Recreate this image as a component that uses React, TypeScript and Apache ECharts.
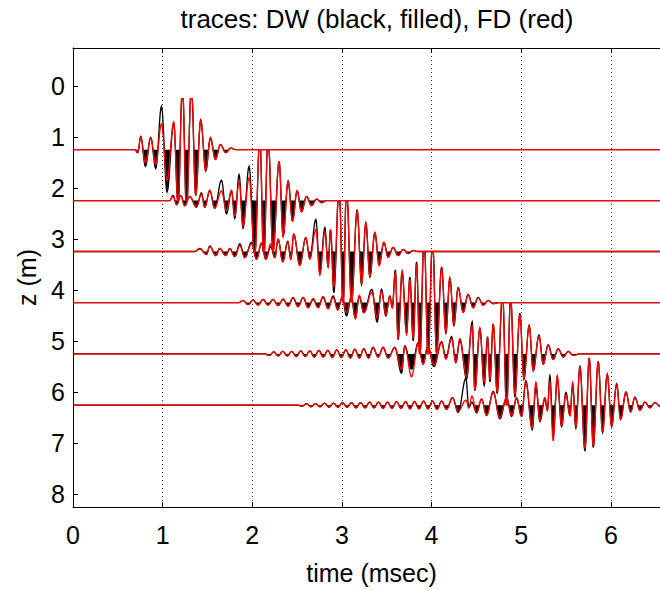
import React, { useEffect, useRef } from "react";
import * as echarts from "echarts";

const TITLE = "traces: DW (black, filled), FD (red)";
const X_NAME = "time (msec)";
const Y_NAME = "z (m)";
const X_MIN = 0;
const X_MAX = 6.66;
const Y_MIN = -0.75;
const Y_MAX = 8.26;
const CLIP = 1;

// receiver depths (trace baselines, m)
const BASELINES = [1.245, 2.245, 3.245, 4.247, 5.255, 6.262];

// trace 1: extrema times (msec), DW (black) and FD (red) amplitudes (trace spacing units, + = up)
const T1 = [0.689, 0.722, 0.756, 0.808, 0.867, 0.923, 0.987, 1.049, 1.124, 1.172, 1.221, 1.266, 1.321, 1.369, 1.425, 1.481, 1.533, 1.589, 1.645, 1.704, 1.76, 1.816];
const B1 = [0, -0.06, 0.26, -0.33, 0.24, -0.37, 0.85, -0.83, 0.52, -1.1, 1.3, -1.2, 1.3, -0.9, 0.58, -0.42, 0.22, -0.19, 0.1, -0.06, 0.03, 0];
const R1 = [0, -0.05, 0.24, -0.26, 0.23, -0.29, 0.51, -0.61, 0.54, -1.1, 1.3, -1.2, 1.3, -0.9, 0.58, -0.4, 0.24, -0.19, 0.1, -0.06, 0.03, 0];

const T2 = [1.079, 1.116, 1.157, 1.202, 1.247, 1.302, 1.377, 1.433, 1.47, 1.526, 1.581, 1.656, 1.712, 1.768, 1.805, 1.853, 1.897, 1.964, 2.028, 2.084, 2.128, 2.176, 2.232, 2.299, 2.344, 2.4, 2.449, 2.5, 2.549, 2.605, 2.661, 2.717, 2.772, 2.831];
const B2 = [0, 0.1, -0.08, 0.1, -0.1, 0.08, -0.13, 0.15, -0.13, 0.2, -0.15, 0.4, -0.26, 0.19, -0.35, 0.51, -0.54, 0.67, -1.1, 1.3, -1.2, 1.3, -1.0, 0.77, -0.7, 0.38, -0.4, 0.19, -0.22, 0.08, -0.1, 0.03, -0.04, 0];
const R2 = [0, 0.08, -0.08, 0.1, -0.1, 0.08, -0.12, 0.12, -0.13, 0.2, -0.15, 0.19, -0.2, 0.2, -0.3, 0.38, -0.5, 0.45, -1.1, 1.3, -1.2, 1.3, -1.0, 0.77, -0.7, 0.38, -0.4, 0.19, -0.22, 0.08, -0.1, 0.03, -0.04, 0];

const T3 = [1.358, 1.414, 1.489, 1.526, 1.593, 1.637, 1.704, 1.749, 1.805, 1.861, 1.917, 1.991, 2.047, 2.103, 2.151, 2.206, 2.251, 2.288, 2.34, 2.396, 2.43, 2.463, 2.53, 2.597, 2.642, 2.709, 2.754, 2.81, 2.846, 2.873, 2.91, 2.969, 3.013, 3.051, 3.107, 3.17, 3.219, 3.267, 3.312, 3.368, 3.415, 3.468, 3.516, 3.571, 3.627, 3.683, 3.739, 3.795, 3.847];
const B3 = [0, 0.06, -0.06, 0.11, -0.08, 0.06, -0.08, 0.05, -0.1, 0.15, -0.12, 0.18, -0.15, 0.15, -0.15, 0.1, -0.12, 0.24, -0.2, 0.2, -0.15, 0.34, -0.27, 0.27, -0.12, 0.63, -0.4, 0.47, -0.3, 0.43, -0.81, 1.3, -1.1, 1.3, -1.0, 0.82, -0.65, 0.56, -0.5, 0.37, -0.27, 0.18, -0.11, 0.08, -0.08, 0.04, -0.04, 0.02, 0];
const R3 = [0, 0.05, -0.05, 0.1, -0.08, 0.06, -0.08, 0.06, -0.1, 0.12, -0.12, 0.15, -0.15, 0.17, -0.15, 0.15, -0.12, 0.24, -0.2, 0.18, -0.15, 0.34, -0.27, 0.27, -0.15, 0.43, -0.46, 0.38, -0.3, 0.43, -0.7, 1.3, -1.1, 1.3, -1.0, 0.8, -0.62, 0.56, -0.48, 0.37, -0.27, 0.18, -0.11, 0.08, -0.08, 0.04, -0.04, 0.02, 0];

const T4 = [1.849, 1.897, 1.953, 2.009, 2.065, 2.121, 2.176, 2.232, 2.288, 2.344, 2.4, 2.455, 2.511, 2.567, 2.623, 2.679, 2.734, 2.79, 2.846, 2.902, 2.954, 3.004, 3.051, 3.105, 3.15, 3.194, 3.244, 3.334, 3.393, 3.442, 3.49, 3.535, 3.562, 3.596, 3.627, 3.672, 3.721, 3.758, 3.795, 3.833, 3.869, 3.917, 3.962, 4.011, 4.056, 4.112, 4.16, 4.204, 4.249, 4.297, 4.353, 4.408, 4.464, 4.52, 4.576, 4.632, 4.688, 4.762];
const B4 = [0, 0.04, -0.04, 0.05, -0.05, 0.06, -0.05, 0.06, -0.06, 0.06, -0.07, 0.1, -0.08, 0.1, -0.1, 0.06, -0.1, 0.1, -0.12, 0.13, -0.12, 0.1, -0.26, 0.1, -0.3, 0.12, -0.2, 0.26, -0.38, 0.26, -0.26, 0.13, -0.1, 0.64, -0.73, 0.6, -0.6, 0.5, -0.75, 0.8, -1.1, 1.3, -1.1, 1.3, -1.0, 0.7, -0.6, 0.48, -0.45, 0.29, -0.19, 0.16, -0.1, 0.1, -0.05, 0.04, -0.02, 0];
const R4 = [0, 0.04, -0.04, 0.05, -0.05, 0.06, -0.05, 0.06, -0.06, 0.07, -0.07, 0.09, -0.08, 0.1, -0.1, 0.08, -0.1, 0.12, -0.12, 0.1, -0.15, 0.12, -0.2, 0.12, -0.32, 0.14, -0.2, 0.2, -0.3, 0.22, -0.24, 0.12, -0.1, 0.58, -0.7, 0.62, -0.62, 0.45, -0.7, 0.75, -1.1, 1.3, -1.1, 1.3, -1.0, 0.68, -0.58, 0.48, -0.42, 0.29, -0.19, 0.15, -0.1, 0.09, -0.05, 0.04, -0.02, 0];

const T5 = [2.14, 2.19, 2.24, 2.29, 2.34, 2.391, 2.441, 2.491, 2.541, 2.592, 2.642, 2.692, 2.742, 2.792, 2.843, 2.893, 2.943, 2.993, 3.044, 3.094, 3.144, 3.194, 3.244, 3.297, 3.348, 3.404, 3.46, 3.516, 3.59, 3.665, 3.702, 3.777, 3.85, 3.906, 3.959, 4.026, 4.112, 4.16, 4.223, 4.271, 4.316, 4.391, 4.453, 4.483, 4.539, 4.587, 4.625, 4.651, 4.688, 4.732, 4.792, 4.837, 4.882, 4.93, 4.985, 5.03, 5.089, 5.134, 5.198, 5.246, 5.301, 5.357, 5.413, 5.469, 5.525, 5.58, 5.655];
const B5 = [0, -0.03, 0.04, -0.04, 0.05, -0.04, 0.05, -0.05, 0.06, -0.05, 0.06, -0.06, 0.07, -0.06, 0.07, -0.07, 0.08, -0.07, 0.08, -0.08, 0.09, -0.08, 0.1, -0.08, 0.13, -0.06, 0.13, -0.08, 0.13, -0.38, 0.16, -0.3, 0.22, -0.2, 0.15, -0.25, 0.24, -0.08, 0.34, -0.17, 0.27, -0.49, 0.63, -0.72, 0.5, -0.62, 0.34, -0.55, 0.59, -0.78, 1.2, -1.1, 1.15, -0.85, 0.8, -0.5, 0.56, -0.33, 0.37, -0.2, 0.18, -0.11, 0.1, -0.06, 0.05, -0.03, 0];
const R5 = [0, -0.03, 0.04, -0.04, 0.05, -0.04, 0.05, -0.05, 0.06, -0.05, 0.06, -0.06, 0.07, -0.06, 0.07, -0.07, 0.08, -0.07, 0.08, -0.08, 0.09, -0.08, 0.1, -0.08, 0.12, -0.06, 0.12, -0.08, 0.12, -0.3, 0.15, -0.45, 0.2, -0.2, 0.16, -0.22, 0.22, -0.1, 0.3, -0.15, 0.3, -0.45, 0.55, -0.72, 0.5, -0.55, 0.3, -0.5, 0.59, -0.75, 1.2, -1.05, 1.1, -0.8, 0.78, -0.48, 0.55, -0.33, 0.35, -0.2, 0.17, -0.11, 0.1, -0.06, 0.05, -0.03, 0];

const T6 = [2.508, 2.555, 2.605, 2.655, 2.705, 2.756, 2.806, 2.856, 2.906, 2.956, 3.007, 3.057, 3.107, 3.157, 3.208, 3.258, 3.308, 3.358, 3.408, 3.459, 3.509, 3.559, 3.609, 3.66, 3.71, 3.76, 3.81, 3.86, 3.911, 3.961, 4.011, 4.061, 4.112, 4.167, 4.234, 4.297, 4.383, 4.416, 4.45, 4.502, 4.558, 4.614, 4.688, 4.762, 4.837, 4.893, 4.949, 5.004, 5.052, 5.123, 5.164, 5.209, 5.265, 5.292, 5.32, 5.357, 5.402, 5.451, 5.499, 5.544, 5.574, 5.61, 5.655, 5.711, 5.759, 5.804, 5.859, 5.908, 5.96, 6.009, 6.065, 6.109, 6.169, 6.221, 6.269, 6.325, 6.381, 6.436, 6.492, 6.548, 6.604];
const B6 = [0, -0.02, 0.03, -0.03, 0.03, -0.03, 0.04, -0.04, 0.04, -0.04, 0.05, -0.04, 0.05, -0.05, 0.05, -0.05, 0.06, -0.05, 0.06, -0.06, 0.06, -0.06, 0.07, -0.06, 0.07, -0.07, 0.07, -0.07, 0.08, -0.07, 0.08, -0.08, 0.08, -0.08, 0.15, -0.14, 0.53, -0.05, 0.06, -0.15, 0.12, -0.2, 0.27, -0.27, 0.15, -0.22, 0.13, -0.22, 0.48, -0.48, 0.35, -0.32, 0.13, -0.1, 0.58, -0.6, 0.5, -0.42, 0.25, -0.2, 0.38, -0.45, 0.77, -0.9, 0.93, -0.83, 0.86, -0.54, 0.61, -0.42, 0.42, -0.28, 0.26, -0.13, 0.16, -0.1, 0.06, -0.05, 0.05, -0.02, 0];
const R6 = [0, -0.02, 0.03, -0.03, 0.03, -0.03, 0.04, -0.04, 0.04, -0.04, 0.05, -0.04, 0.05, -0.05, 0.05, -0.05, 0.06, -0.05, 0.06, -0.06, 0.06, -0.06, 0.07, -0.06, 0.07, -0.07, 0.07, -0.07, 0.08, -0.07, 0.08, -0.08, 0.08, -0.08, 0.14, -0.12, 0.1, -0.05, 0.18, -0.15, 0.12, -0.2, 0.25, -0.25, 0.15, -0.2, 0.15, -0.22, 0.45, -0.45, 0.45, -0.3, 0.15, -0.1, 0.45, -0.7, 0.58, -0.4, 0.2, -0.2, 0.45, -0.42, 0.75, -0.85, 0.93, -0.8, 0.84, -0.52, 0.6, -0.4, 0.4, -0.27, 0.25, -0.13, 0.15, -0.1, 0.06, -0.05, 0.05, -0.02, 0];

const TIMES = [T1, T2, T3, T4, T5, T6];
const DW = [B1, B2, B3, B4, B5, B6];
const FD = [R1, R2, R3, R4, R5, R6];

const FONT = "'Liberation Sans', Arial, Helvetica, sans-serif";
const LINE_W = 1.3;

function tracePoints(api: any, base: number, times: number[], amps: number[], fill: boolean) {
  const pts: number[][] = [];
  const clip = (a: number) => Math.max(-CLIP, Math.min(CLIP, a));
  const push = (t: number, a: number) => {
    let v = clip(a);
    if (fill) v = Math.min(v, 0);
    pts.push(api.coord([t, base - v]));
  };
  push(X_MIN, 0);
  push(times[0], amps[0]);
  const N = 10;
  for (let k = 1; k < times.length; k++) {
    const t0 = times[k - 1], t1 = times[k], a0 = amps[k - 1], a1 = amps[k];
    for (let s = 1; s <= N; s++) {
      const u = s / N;
      const w = (1 - Math.cos(Math.PI * u)) / 2;
      push(t0 + (t1 - t0) * u, a0 + (a1 - a0) * w);
    }
  }
  push(X_MAX, 0);
  return pts;
}

const intLabel = (v: number) => (Math.abs(v - Math.round(v)) < 1e-6 ? String(Math.round(v)) : "");

const axisLineStyle = { color: "#000", width: 1 };

function buildOption(): any {
  const seriesData = BASELINES.map((b, i) => ({ value: [TIMES[i][0], b] }));
  return {
    animation: false,
    backgroundColor: "#fff",
    title: {
      text: TITLE,
      left: 372,
      top: 1,
      textAlign: "center",
      textStyle: { fontFamily: FONT, fontSize: 26, fontWeight: "normal", color: "#000" },
    },
    grid: { left: 73, top: 48, width: 597, height: 470, containLabel: false },
    xAxis: [
      {
        type: "value",
        position: "bottom",
        min: X_MIN,
        max: X_MAX,
        interval: 1,
        name: X_NAME,
        nameLocation: "middle",
        nameGap: 53,
        nameTextStyle: { fontFamily: FONT, fontSize: 25, color: "#000" },
        axisLine: { onZero: false, lineStyle: axisLineStyle },
        axisTick: { inside: true, length: 5, lineStyle: axisLineStyle },
        axisLabel: { margin: 15, fontFamily: FONT, fontSize: 25, color: "#000", formatter: intLabel },
        splitLine: { show: true, lineStyle: { color: "#333", width: 1, type: [1, 3] } },
      },
      {
        type: "value",
        position: "top",
        min: X_MIN,
        max: X_MAX,
        interval: 1,
        axisLine: { onZero: false, lineStyle: axisLineStyle },
        axisTick: { inside: true, length: 5, lineStyle: axisLineStyle },
        axisLabel: { show: false },
        splitLine: { show: false },
      },
    ],
    yAxis: [
      {
        type: "value",
        position: "left",
        inverse: true,
        min: Y_MIN,
        max: Y_MAX,
        splitNumber: 9,
        name: Y_NAME,
        nameLocation: "middle",
        nameGap: 34,
        nameTextStyle: { fontFamily: FONT, fontSize: 25, color: "#000" },
        axisLine: { onZero: false, lineStyle: axisLineStyle },
        axisTick: { inside: true, length: 5, lineStyle: axisLineStyle },
        axisLabel: { margin: 8, fontFamily: FONT, fontSize: 25, color: "#000", formatter: intLabel },
        splitLine: { show: false },
      },
      {
        type: "value",
        position: "right",
        inverse: true,
        min: Y_MIN,
        max: Y_MAX,
        splitNumber: 9,
        axisLine: { onZero: false, lineStyle: axisLineStyle },
        axisTick: { inside: true, length: 5, lineStyle: axisLineStyle },
        axisLabel: { show: false },
        splitLine: { show: false },
      },
    ],
    series: [
      {
        type: "custom",
        name: "DW",
        xAxisIndex: 0,
        yAxisIndex: 0,
        silent: true,
        clip: true,
        data: seriesData,
        renderItem: (params: any, api: any) => {
          const i = params.dataIndex;
          const base = BASELINES[i];
          const fillPts = tracePoints(api, base, TIMES[i], DW[i], true);
          const linePts = tracePoints(api, base, TIMES[i], DW[i], false);
          return {
            type: "group",
            children: [
              { type: "polygon", shape: { points: fillPts }, style: { fill: "#000", stroke: null } },
              { type: "polyline", shape: { points: linePts }, style: { stroke: "#000", lineWidth: LINE_W, fill: null } },
            ],
          };
        },
      },
      {
        type: "custom",
        name: "FD",
        xAxisIndex: 0,
        yAxisIndex: 0,
        silent: true,
        clip: true,
        data: seriesData,
        renderItem: (params: any, api: any) => {
          const i = params.dataIndex;
          const base = BASELINES[i];
          const pts = tracePoints(api, base, TIMES[i], FD[i], false);
          return { type: "polyline", shape: { points: pts }, style: { stroke: "#ff0000", lineWidth: LINE_W, fill: null } };
        },
      },
    ],
  };
}

export default function App() {
  const ref = useRef<HTMLDivElement>(null);
  useEffect(() => {
    if (!ref.current) return;
    const chart = echarts.init(ref.current, undefined, { renderer: "svg" });
    chart.setOption(buildOption());
    return () => chart.dispose();
  }, []);
  return (
    <div style={{ position: "fixed", left: 0, top: 0, width: 660, height: 590, overflow: "hidden", background: "#fff" }}>
      <div ref={ref} style={{ width: 680, height: 590 }} />
    </div>
  );
}
